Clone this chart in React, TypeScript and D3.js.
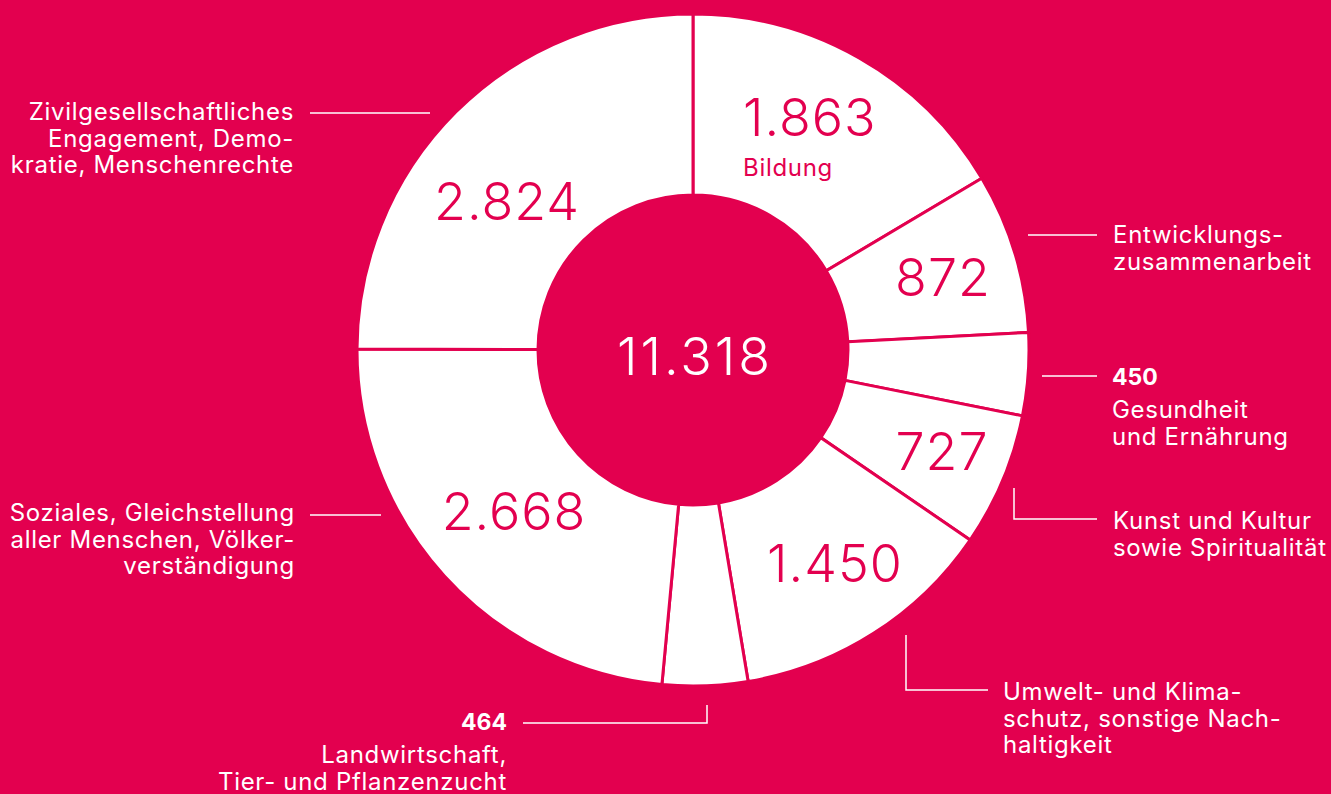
import * as d3 from "d3";

// data
const categories = [
  "Bildung",
  "Entwicklungszusammenarbeit",
  "Gesundheit und Ernährung",
  "Kunst und Kultur sowie Spiritualität",
  "Umwelt- und Klimaschutz, sonstige Nachhaltigkeit",
  "Landwirtschaft, Tier- und Pflanzenzucht",
  "Soziales, Gleichstellung aller Menschen, Völkerverständigung",
  "Zivilgesellschaftliches Engagement, Demokratie, Menschenrechte",
];
const values = [1863, 872, 450, 727, 1450, 464, 2668, 2824];
const labelLines = [
  ["Bildung"],
  ["Entwicklungs-", "zusammenarbeit"],
  ["Gesundheit", "und Ernährung"],
  ["Kunst und Kultur", "sowie Spiritualität"],
  ["Umwelt- und Klima-", "schutz, sonstige Nach-", "haltigkeit"],
  ["Landwirtschaft,", "Tier- und Pflanzenzucht"],
  ["Soziales, Gleichstellung", "aller Menschen, Völker-", "verständigung"],
  ["Zivilgesellschaftliches", "Engagement, Demo-", "kratie, Menschenrechte"],
];

const width = 1331;
const height = 794;
const cx = 693;
const cy = 350;
const outerR = 336;
const innerR = 155;
const bg = "#e3004f";
const font = "Inter, Roboto, sans-serif";

// where the number sits: inside the ring or outside with the label
type Layout = {
  inside: boolean;
  vx: number; vy: number; anchor: string;
  tx?: number; ty?: number; tAnchor?: string;
  leader?: [number, number][];
};
const layout: Layout[] = [
  { inside: true, vx: 50, vy: -214, anchor: "start", tx: 50, ty: -174, tAnchor: "start" },
  { inside: true, vx: 250, vy: -54, anchor: "middle", tx: 420, ty: -107, tAnchor: "start",
    leader: [[335, -115], [404, -115]] },
  { inside: false, vx: 419, vy: 35, anchor: "start", tx: 419, ty: 68, tAnchor: "start",
    leader: [[349, 26], [404, 26]] },
  { inside: true, vx: 249, vy: 120, anchor: "middle", tx: 420, ty: 179, tAnchor: "start",
    leader: [[321, 138], [321, 169], [404, 169]] },
  { inside: true, vx: 142, vy: 232, anchor: "middle", tx: 310, ty: 350, tAnchor: "start",
    leader: [[213, 285], [213, 340], [295, 340]] },
  { inside: false, vx: -186, vy: 380, anchor: "end", tx: -186, ty: 413, tAnchor: "end",
    leader: [[14, 355], [14, 373], [-170, 373]] },
  { inside: true, vx: -179, vy: 180, anchor: "middle", tx: -398, ty: 171, tAnchor: "end",
    leader: [[-312, 165], [-383, 165]] },
  { inside: true, vx: -186, vy: -130, anchor: "middle", tx: -399, ty: -230, tAnchor: "end",
    leader: [[-263, -237], [-383, -237]] },
];

const fmt = (v: number) => d3.format(",")(v).replace(/,/g, ".");

export default function App() {
  const pie = d3.pie<number>().sort(null).value((d) => d);
  const arcs = pie(values);
  const arc = d3.arc<d3.PieArcDatum<number>>().innerRadius(innerR).outerRadius(outerR);
  const total = d3.sum(values);

  return (
    <svg width={width} height={height} style={{ position: "absolute", left: 0, top: 0 }}>
      <rect width={width} height={height} fill={bg} />
      <g transform={`translate(${cx},${cy})`}>
        {arcs.map((a, i) => (
          <path key={categories[i]} d={arc(a) || ""} fill="#fff" stroke={bg} strokeWidth={3} />
        ))}
        <circle r={innerR} fill={bg} />
        <text x={2} y={25} textAnchor="middle" fill="#fff" fontFamily={font} fontWeight={300} fontSize={52} letterSpacing={3}>
          {fmt(total)}
        </text>
        {arcs.map((a, i) => {
          const l = layout[i];
          const lines = labelLines[i];
          return (
            <g key={"lab" + i}>
              {l.leader && (
                <polyline points={l.leader.map((p) => p.join(",")).join(" ")} fill="none" stroke="#fff" strokeWidth={1.5} />
              )}
              {l.inside ? (
                <text x={l.vx} y={l.vy} textAnchor={l.anchor} fill={bg} fontFamily={font} fontWeight={300} fontSize={52} letterSpacing={1}>
                  {fmt(values[i])}
                </text>
              ) : (
                <text x={l.vx} y={l.vy} textAnchor={l.anchor} fill="#fff" fontFamily={font} fontWeight={700} fontSize={23}>
                  {fmt(values[i])}
                </text>
              )}
              <text x={l.tx} y={l.ty} textAnchor={l.tAnchor} fill={i === 0 ? bg : "#fff"} fontFamily={font} fontWeight={400} fontSize={24} letterSpacing={0.7}>
                {lines.map((s, j) => (
                  <tspan key={j} x={l.tx} dy={j === 0 ? 0 : 26.5}>{s}</tspan>
                ))}
              </text>
            </g>
          );
        })}
      </g>
    </svg>
  );
}
